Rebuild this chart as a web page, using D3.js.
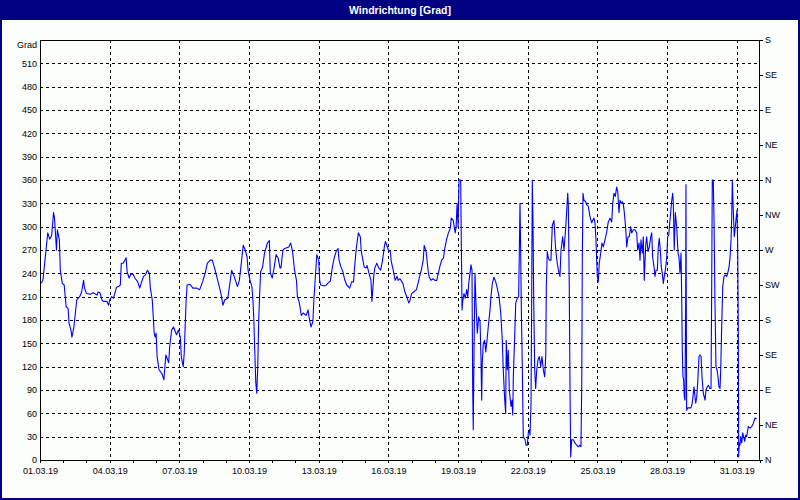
<!DOCTYPE html>
<html>
<head>
<meta charset="utf-8">
<script src="https://cdn.jsdelivr.net/npm/d3@7"></script>
<style>
  html, body { margin: 0; padding: 0; background: #ffffff; }
  svg { display: block; }
</style>
</head>
<body>
<svg id="chart" width="800" height="500"></svg>
<script>
// ---------------- data ----------------
const chartTitle = "Windrichtung [Grad]";
const unitLabel = "Grad";
const startDate = "01.03.19";
const endDate = "01.04.19";
const degreeTicks = [0, 30, 60, 90, 120, 150, 180, 210, 240, 270, 300, 330, 360, 390, 420, 450, 480, 510];
const compassDegrees = [0, 45, 90, 135, 180, 225, 270, 315, 360, 405, 450, 495, 540];
const compassLabels = ["N", "NE", "E", "SE", "S", "SW", "W", "NW", "N", "NE", "E", "SE", "S"];
const dateLabels = ["01.03.19", "04.03.19", "07.03.19", "10.03.19", "13.03.19", "16.03.19",
                    "19.03.19", "22.03.19", "25.03.19", "28.03.19", "31.03.19"];
// [hours since 01.03.19 00:00, wind direction in degrees]
const readings = [
[1,227],[3,231],[5,255],[8,292],[10,284],[12,288],[14,318],[15,311],[17,270],[18,296],[20,283],[21,244],[23,227],[25,225],[27,197],[29,195],[30,176],[32,167],[33,158],[35,171],[38,206],[41,210],[43,216],[45,231],[46,221],[48,214],[52,213],[55,215],[59,212],[60,216],[62,215],[64,206],[65,204],[69,204],[71,199],[72,206],[74,210],[76,208],[79,222],[81,223],[83,225],[84,253],[86,253],[89,260],[90,242],[92,234],[94,239],[96,239],[98,234],[101,229],[103,221],[104,225],[107,236],[109,238],[111,244],[113,240],[114,221],[116,206],[118,163],[119,158],[120,163],[121,133],[123,116],[126,111],[128,103],[130,135],[133,125],[134,146],[136,167],[138,171],[141,161],[143,167],[145,158],[146,133],[148,120],[149,137],[151,206],[152,225],[155,226],[158,221],[162,221],[165,219],[168,229],[171,242],[173,253],[176,257],[178,257],[181,244],[184,229],[187,214],[189,199],[191,206],[194,208],[196,225],[198,244],[200,238],[202,231],[204,223],[206,231],[208,253],[210,276],[212,270],[214,261],[215,244],[217,231],[219,223],[220,206],[221,180],[222,137],[223,99],[224,86],[225,120],[226,180],[227,214],[228,242],[230,248],[232,266],[235,279],[237,282],[238,240],[240,234],[242,248],[244,264],[246,260],[248,247],[249,247],[251,270],[253,272],[257,274],[259,279],[261,268],[263,244],[265,231],[266,210],[268,202],[270,186],[272,189],[275,186],[277,193],[278,184],[280,171],[282,178],[283,206],[285,244],[286,264],[288,257],[289,231],[290,225],[293,224],[295,224],[298,228],[300,230],[302,247],[304,260],[306,268],[308,272],[309,257],[311,248],[313,242],[315,231],[317,225],[320,221],[322,229],[324,229],[325,247],[327,274],[329,292],[331,287],[332,268],[335,248],[337,247],[338,250],[340,240],[342,231],[343,204],[345,238],[346,247],[348,253],[350,247],[352,244],[354,257],[356,276],[357,281],[360,270],[362,268],[363,255],[365,244],[367,231],[369,236],[370,231],[372,233],[374,229],[375,227],[377,216],[379,210],[381,202],[382,204],[384,214],[386,216],[389,219],[391,229],[393,240],[394,244],[396,257],[397,276],[399,268],[401,244],[402,236],[404,231],[406,233],[408,231],[410,231],[413,248],[415,257],[417,260],[418,270],[420,283],[422,292],[424,298],[425,311],[427,308],[429,292],[430,300],[431,330],[432,300],[433,360],
[434.7,360],[435.3,287],[436.1,193],[436.8,204],[438.1,214],[439.5,208],[440.9,219],[442,210],[443,227],[444.3,240],[445.4,251],[446.4,244],[447.1,94],[447.7,39],[448.5,141],[449.5,240],[450.5,202],[451.9,163],[453.3,184],[454.7,178],[455.7,129],[456.4,77],[457,125],[458.1,150],[459.5,154],[460.6,139],[461.6,150],[463.2,171],[465,193],[466,210],[467.4,227],[469.1,235],[470.9,229],[472.5,221],[474.3,210],[476.1,189],[477.7,154],[478.7,116],[480.2,77],[481.2,60],[481.8,154],[482.9,116],[483.9,141],[484.9,90],[486,77],[486.7,69],[487.7,77],[488.5,58],[489.1,107],[490.5,158],[491.6,202],[493.2,208],[494.6,210],[495.3,266],[496,330],[496.7,270],[497.3,202],[498.4,116],[499.4,30],[501.2,26],[502.2,19],[503.5,19],[504.6,35],[505.6,39],[506.3,32],[507.4,73],[508.1,210],[508.7,360],[509.4,308],[510.2,202],[511.2,116],[512.2,92],[513.3,116],[514.6,129],[516,133],[517.4,120],[518.7,133],[520.1,116],[521.5,107],[522.6,133],[523.2,223],[524.2,268],[525.2,260],[526.3,257],[528,257],[529.4,302],[531.1,308],[532.9,270],[534.5,253],[536.3,240],[537.3,236],[538.4,270],[540.1,287],[541.5,270],[543.2,298],[544.3,321],[545.3,343],[545.9,330],[546.9,223],[547.7,90],[548.4,4],[549.4,26],[551.1,26],[552.8,22],[554.6,19],[556.2,17],[558,19],[559,17],[559.8,99],[560.4,260],[561.1,343],[562.1,334],[563.9,332],[564.9,328],[566.6,326],[568.3,313],[570.1,305],[571.1,308],[572.5,311],[573.5,305],[574.5,283],[575.3,255],[575.9,236],[576.9,229],[577.9,253],[579.4,266],[580.7,279],[582.1,274],[583.8,283],[585.6,293],[587.2,306],[589,311],[590.8,306],[591.8,330],[593.1,343],[594.5,339],[595.9,351],[597,345],[598.3,318],[599.3,334],[600.7,330],[601.7,332],[602.7,330],[603.8,318],[605.2,298],[606.3,274],[607.6,287],[608.9,287],[610.4,300],[611.4,292],[613.1,296],[614.8,296],[616.6,292],[617.6,270],[619,279],[620,257],[621,283],[622.4,266],[623.4,287],[624.4,231],[625.9,276],[626.9,287],[628.3,268],[629.6,274],[631.1,287],[632.1,292],[633.1,261],[634.5,248],[635.5,236],[636.5,244],[637.9,244],[638.9,274],[639.9,285],[641,270],[642,248],[643,240],[644.1,227],[645.1,236],[646.6,248],[647.6,260],[648.6,287],[649.7,289],[650.7,305],[651.7,318],[652.8,334],[653.8,343],[654.4,330],[655.4,270],[656.5,318],[657.9,300],[659.3,266],[660.3,261],[661.3,240],[662.4,266],[663.1,210],[663.7,141],[664.4,107],[665.1,103],[665.8,81],[666.5,77],[667.2,210],[667.5,354],[667.8,210],[668.2,64],[669.3,67],[670.9,67],[672.7,67],[674,73],[675.1,86],[675.8,94],[676.8,81],[677.6,73],[678.6,81],[679.6,99],[681,133],[682,135],[683.1,133],[684.1,107],[685.4,86],[686.4,81],[687.2,77],[688.2,90],[689.5,94],[690.6,96],[692.3,92],[693.4,92],[694.1,227],[694.7,360],[695.7,360],[696.5,308],[697.5,202],[698.5,120],[699.6,116],[700.6,107],[701.6,94],[702.7,92],[703.4,116],[704.4,171],[705.5,223],[706.8,236],[708.1,238],[709.6,236],[710.6,240],[712,248],[713,260],[714.1,283],[714.8,313],[715.4,360],[716.4,321],[717.4,287],[718.5,300],[719.5,313],[720.2,321],[720.9,279],[721.6,158],[722,4],[722.6,22],[723.3,19],[724.1,30],[725.1,22],[726.1,35],[727.1,30],[728.2,24],[729.2,32],[730.2,30],[731.9,43],[733.7,41],[735.4,43],[737.1,47],[738.8,54],[740.6,53]
];

// ---------------- layout / style ----------------
const W = 800, H = 500;
const plot = { left: 40, top: 40, right: 760, bottom: 460 };
const navy = "#000080";
const bg = "#fcfefc";
const labelFont = "'Liberation Sans', Arial, sans-serif";

const parseDate = d3.utcParse("%d.%m.%y");
const t0 = parseDate(startDate), t1 = parseDate(endDate);

const x = d3.scaleUtc().domain([t0, t1]).range([plot.left, plot.right]);
const y = d3.scaleLinear().domain([0, 540]).range([plot.bottom, plot.top]);

const svg = d3.select("#chart");

// window frame
svg.append("rect").attr("x", 0).attr("y", 0).attr("width", W).attr("height", H).attr("fill", navy);
svg.append("rect").attr("x", 2).attr("y", 20).attr("width", W - 4).attr("height", H - 22).attr("fill", bg);

svg.append("text")
  .attr("x", W / 2).attr("y", 13.5)
  .attr("text-anchor", "middle")
  .attr("fill", "#ffffff")
  .attr("font-family", labelFont)
  .attr("font-weight", "bold")
  .attr("font-size", "10.5px")
  .text(chartTitle);

// grid
const grid = svg.append("g")
  .attr("stroke", "#000")
  .attr("stroke-width", 1)
  .attr("stroke-dasharray", "3,3")
  .attr("shape-rendering", "crispEdges");

grid.selectAll("line.h")
  .data(degreeTicks.filter(d => d > 0))
  .join("line")
  .attr("class", "h")
  .attr("x1", plot.left).attr("x2", plot.right)
  .attr("y1", d => Math.round(y(d)) + 0.5).attr("y2", d => Math.round(y(d)) + 0.5);

grid.selectAll("line.v")
  .data(dateLabels.map(parseDate).filter(d => +d > +t0))
  .join("line")
  .attr("class", "v")
  .attr("y1", plot.top).attr("y2", plot.bottom)
  .attr("x1", d => Math.round(x(d)) + 0.5).attr("x2", d => Math.round(x(d)) + 0.5);

// data line
const line = d3.line()
  .x(d => x(new Date(+t0 + d[0] * 3600e3)))
  .y(d => y(d[1]));

svg.append("path")
  .datum(readings)
  .attr("d", line)
  .attr("fill", "none")
  .attr("stroke", "#0000ff")
  .attr("stroke-width", 1.1)
  .attr("stroke-linejoin", "round");

// axes
function styleAxis(g) {
  g.attr("font-family", labelFont).attr("font-size", "9px");
  g.select(".domain").remove();
  g.selectAll(".tick line").attr("stroke", "#000").attr("shape-rendering", "crispEdges");
  g.selectAll(".tick text").attr("fill", "#000");
}

svg.append("g")
  .attr("transform", `translate(${plot.left},0)`)
  .call(d3.axisLeft(y).tickValues(degreeTicks).tickSize(0).tickPadding(3))
  .call(styleAxis);

svg.append("g")
  .attr("transform", `translate(${plot.right},0)`)
  .call(d3.axisRight(y).tickValues(compassDegrees).tickSize(3).tickPadding(2)
        .tickFormat((d, i) => compassLabels[i]))
  .call(styleAxis);

svg.append("g")
  .attr("transform", `translate(0,${plot.bottom})`)
  .call(d3.axisBottom(x).ticks(d3.utcDay.every(1)).tickSize(3).tickFormat(""))
  .call(styleAxis);

svg.append("g")
  .attr("transform", `translate(0,${plot.bottom})`)
  .call(d3.axisBottom(x).tickValues(dateLabels.map(parseDate)).tickSize(3).tickPadding(5)
        .tickFormat(d3.utcFormat("%d.%m.%y")))
  .call(styleAxis);

svg.append("text")
  .attr("x", plot.left - 3).attr("y", 47.5)
  .attr("text-anchor", "end")
  .attr("font-family", labelFont)
  .attr("font-size", "9px")
  .attr("fill", "#000")
  .text(unitLabel);

// plot frame
svg.append("rect")
  .attr("x", plot.left + 0.5).attr("y", plot.top + 0.5)
  .attr("width", plot.right - plot.left - 1).attr("height", plot.bottom - plot.top)
  .attr("fill", "none").attr("stroke", "#000").attr("stroke-width", 1)
  .attr("shape-rendering", "crispEdges");
</script>
</body>
</html>
